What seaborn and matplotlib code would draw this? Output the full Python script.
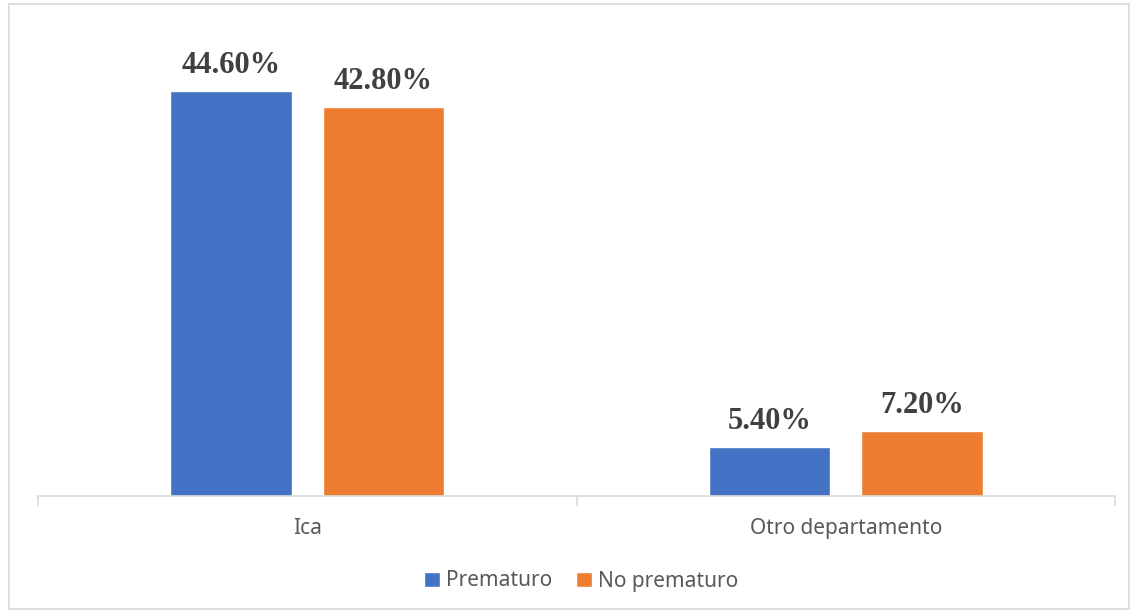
import matplotlib
import pandas as pd
import seaborn as sns
from matplotlib import pyplot as plt
from matplotlib.patches import Rectangle

sns.set_style("white")
plt.rcParams['font.family'] = ['Noto Sans', 'DejaVu Sans']

lugares = ["Ica", "Otro departamento"]
grupos = ["Prematuro", "No prematuro"]
prematuro = [44.6, 5.4]
no_prematuro = [42.8, 7.2]

colors = ["#4472C4", "#ED7D31"]

df = pd.DataFrame({
    "lugar": lugares * 2,
    "grupo": [grupos[0]] * 2 + [grupos[1]] * 2,
    "valor": prematuro + no_prematuro,
})

W, H = 1132, 611
fig = plt.figure(figsize=(W / 100, H / 100), dpi=100)
fig.patches.append(Rectangle((9 / W, 2 / H), (1129 - 9) / W, (607 - 2) / H,
                             transform=fig.transFigure, fill=False,
                             edgecolor="#D9D9D9", linewidth=1.2))
ax = fig.add_axes([38 / W, (H - 496) / H, (1115 - 38) / W, (496 - 20) / H])

sns.barplot(data=df, x="lugar", y="valor", hue="grupo", order=lugares,
            hue_order=grupos, palette=colors, width=0.566, gap=0.205,
            saturation=1, ax=ax, legend=True)

ax.set_xlim(-0.5, 1.5)
ax.set_ylim(0, (496 - 20) / 9.08)
ax.set_xlabel("")
ax.set_ylabel("")
ax.set_yticks([])
for s in ["top", "right", "left"]:
    ax.spines[s].set_visible(False)
ax.spines["bottom"].set_color("#D9D9D9")
ax.spines["bottom"].set_linewidth(1.2)
ax.tick_params(axis="x", which="major", length=0, pad=16, labelsize=15, labelcolor="#595959")
ax.set_xticks([-0.5, 0.5, 1.5], minor=True)
ax.tick_params(axis="x", which="minor", bottom=True, length=7, width=1.2, color="#D9D9D9")

for cont in ax.containers:
    ax.bar_label(cont, labels=[f"{v:.2f}%" for v in cont.datavalues], padding=8,
                 fontsize=22, fontweight="bold", color="#404040",
                 family=["Liberation Serif"])

leg = ax.legend(loc="center", bbox_to_anchor=(581 / W, 1 - 581 / H), bbox_transform=fig.transFigure,
                ncol=2, frameon=False, fontsize=15, handlelength=0.75, handleheight=0.75,
                handletextpad=0.3, columnspacing=1.15)
for t in leg.get_texts():
    t.set_color("#595959")

fig.savefig("out.png", dpi=100)
